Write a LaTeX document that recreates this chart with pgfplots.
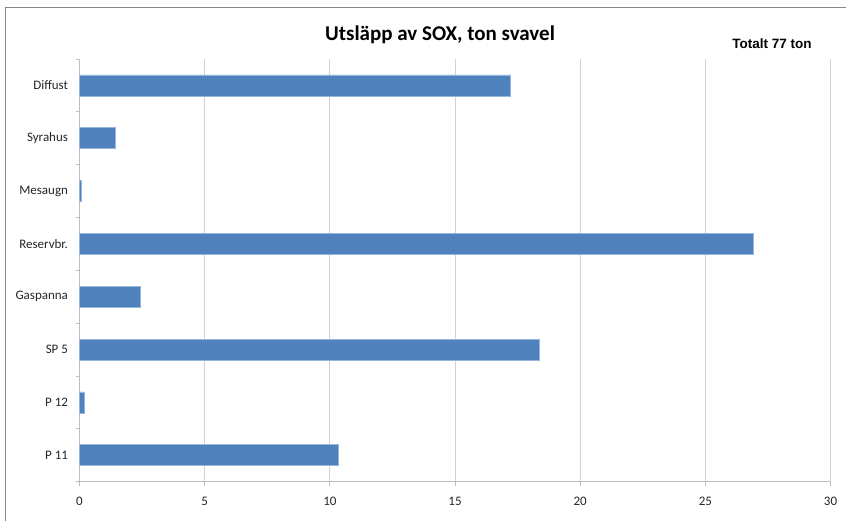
\documentclass[border=0pt]{standalone}
\usepackage{pgfplots}
\pgfplotsset{compat=1.18}
\usepackage{fontspec}
\setmainfont{Carlito}
\newfontfamily\arialfont{Liberation Sans}

\definecolor{barblue}{RGB}{79,129,189}
\definecolor{baredge}{RGB}{150,182,222}
\definecolor{gridgray}{RGB}{210,210,210}
\definecolor{axisgray}{RGB}{190,190,190}
\definecolor{framegray}{RGB}{134,134,134}

\begin{document}
\begin{tikzpicture}[x=1bp,y=1bp]
  \path[use as bounding box, fill=white] (0,0) rectangle (846,521);
  % chart area frame (left and top edges visible)
  \draw[framegray, line width=1bp] (5.5,-5) -- (5.5,513.5) -- (860,513.5);

  \begin{axis}[
    xbar,
    scale only axis,
    width=751bp, height=422.7bp,
    at={(79.5bp,39.3bp)}, anchor=south west,
    xmin=0, xmax=30,
    ymin=-0.5, ymax=7.5,
    xtick={0,5,...,30},
    ytick={0,...,7},
    yticklabels={P 11, P 12, SP 5, Gaspanna, Reservbr., Mesaugn, Syrahus, Diffust},
    minor ytick={-0.5,0.5,...,7.5},
    axis x line*=bottom,
    axis y line*=left,
    axis line style={axisgray, line width=1bp},
    tick align=outside,
    major tick length=4bp,
    minor tick length=4bp,
    tick style={axisgray, line width=0.8bp},
    every major y tick/.style={draw=none},
    xmajorgrids,
    major grid style={gridgray, line width=1bp},
    bar width=21bp,
    /pgf/number format/assume math mode=true,
    tick label style={font=\fontsize{13bp}{15bp}\selectfont, black!85},
    xticklabel style={yshift=-8bp},
    yticklabel style={xshift=-4bp},
    clip=false,
  ]
    \addplot[fill=barblue, draw=baredge, line width=0.7bp]
      coordinates {(10.35,0) (0.21,1) (18.37,2) (2.45,3)
                   (26.93,4) (0.07,5) (1.43,6) (17.23,7)};
  \end{axis}

  \node[font=\bfseries\fontsize{21bp}{25bp}\selectfont] at (440,486) {Utsläpp av SOX, ton svavel};
  \node[font=\arialfont\bfseries\fontsize{13.5bp}{16bp}\selectfont] at (772,477) {Totalt 77 ton};
\end{tikzpicture}
\end{document}
